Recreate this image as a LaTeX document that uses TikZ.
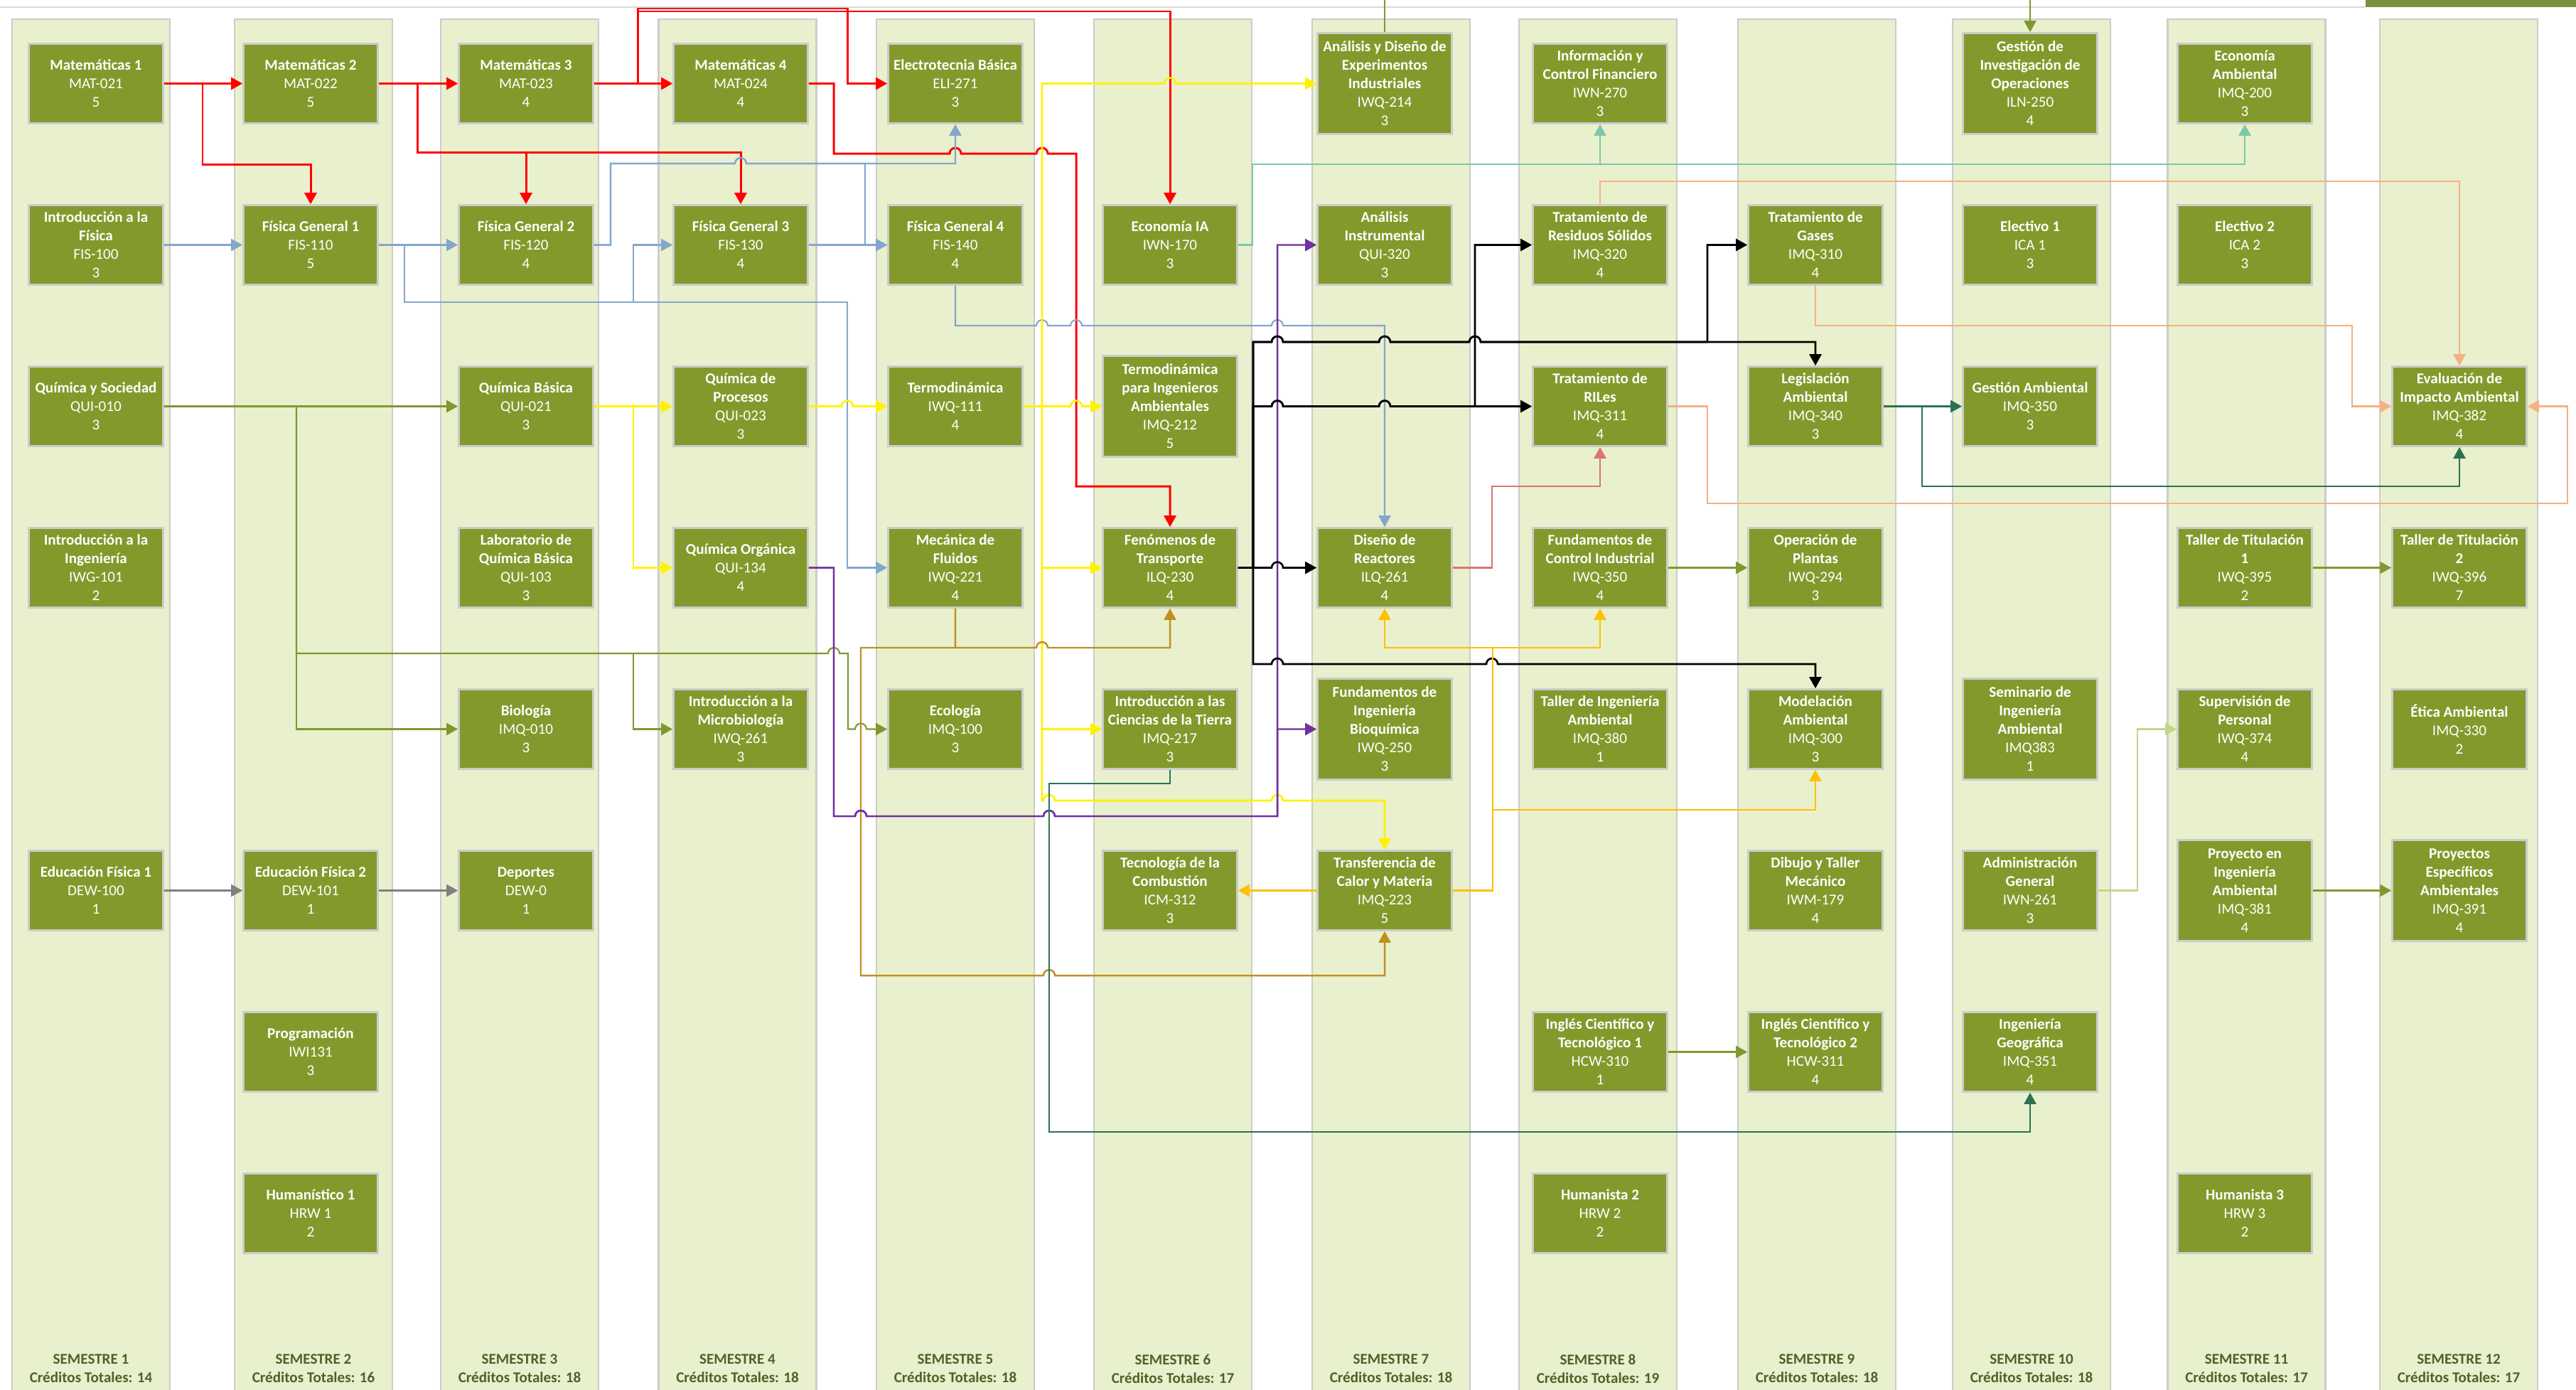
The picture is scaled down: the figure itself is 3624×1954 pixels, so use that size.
\documentclass[tikz,border=0pt]{standalone}
\usepackage{fontspec}
\setmainfont{Carlito}
\usepackage{tikz}
\usetikzlibrary{arrows.meta}
\usepackage{xcolor}
\definecolor{fondocarril}{RGB}{233,240,205}
\definecolor{fondoramo}{RGB}{132,153,43}
\definecolor{textosem}{RGB}{79,98,40}
\definecolor{barra}{RGB}{118,146,60}
\definecolor{lazul}{RGB}{132,166,206}
\definecolor{lolivo}{RGB}{128,152,48}
\definecolor{loro}{RGB}{191,144,32}
\definecolor{lmorado}{RGB}{112,48,160}
\definecolor{lsalmon}{RGB}{217,118,110}
\definecolor{lambar}{RGB}{255,192,0}
\definecolor{lnaranja}{RGB}{244,177,131}
\definecolor{lturquesa}{RGB}{122,201,170}
\definecolor{lverde}{RGB}{44,114,82}
\definecolor{lverdeclaro}{RGB}{196,215,135}
\newcommand{\salto}[2]{-- ({#1-8},#2) arc[start angle=180, end angle=0, radius=0.08cm]}

\begin{document}
\begin{tikzpicture}[x=0.01cm, y=-0.01cm]
            \tikzstyle{carril} = [rectangle, draw=black!20, line width=0.7pt, fill=fondocarril, minimum width=2.22cm, minimum height=19.33cm]
            \tikzstyle{ramo} = [rectangle, draw=black!20, line width=0.7pt, fill=fondoramo, text=white, minimum width=1.89cm, minimum height=1.12cm, inner sep=0pt, align=center, font=\fontsize{6}{7.4}\selectfont]
            \tikzstyle{alto} = [minimum height=1.42cm]
            \tikzstyle{semestre} = [align=center, text=textosem, font=\bfseries\fontsize{6}{7.4}\selectfont]
            \tikzstyle{req} = [-{Triangle[length=1.6mm, width=1.7mm]}, line width=0.6pt]
            \tikzstyle{rojo} = [req, draw=red, line width=0.85pt]
            \tikzstyle{azul} = [req, draw=lazul]
            \tikzstyle{olivo} = [req, draw=lolivo]
            \tikzstyle{gris} = [req, draw=black!50]
            \tikzstyle{amarillo} = [req, draw=yellow, line width=0.75pt]
            \tikzstyle{oro} = [req, draw=loro, line width=0.7pt]
            \tikzstyle{morado} = [req, draw=lmorado, line width=0.7pt]
            \tikzstyle{negro} = [req, draw=black, line width=0.75pt]
            \tikzstyle{salmon} = [req, draw=lsalmon, line width=0.7pt]
            \tikzstyle{ambar} = [req, draw=lambar, line width=0.75pt]
            \tikzstyle{naranja} = [req, draw=lnaranja, line width=0.7pt]
            \tikzstyle{turquesa} = [req, draw=lturquesa, line width=0.7pt]
            \tikzstyle{verde} = [req, draw=lverde, line width=0.7pt]
            \tikzstyle{verdeclaro} = [req, draw=lverdeclaro, line width=0.7pt]

            \useasboundingbox (0,0) rectangle (3624,1954);
            \draw[black!15, line width=0.8pt] (0,10) -- (3328,10);
            \fill[barra] (3328,0) rectangle (3624,10);

            \node[carril] (s1) at (128,994) {};
            \node[carril] (s2) at (441,994) {};
            \node[carril] (s3) at (731,994) {};
            \node[carril] (s4) at (1037.5,994) {};
            \node[carril] (s5) at (1344,994) {};
            \node[carril] (s6) at (1650,994) {};
            \node[carril] (s7) at (1957,994) {};
            \node[carril] (s8) at (2248,994) {};
            \node[carril] (s9) at (2556,994) {};
            \node[carril] (s10) at (2858,994) {};
            \node[carril] (s11) at (3160.5,994) {};
            \node[carril] (s12) at (3459,994) {};

            \node[semestre] (t1) at (128,1925) {SEMESTRE 1\\Créditos Totales: 14};
            \node[semestre] (t2) at (441,1925) {SEMESTRE 2\\Créditos Totales: 16};
            \node[semestre] (t3) at (731,1925) {SEMESTRE 3\\Créditos Totales: 18};
            \node[semestre] (t4) at (1037.5,1925) {SEMESTRE 4\\Créditos Totales: 18};
            \node[semestre] (t5) at (1344,1925) {SEMESTRE 5\\Créditos Totales: 18};
            \node[semestre] (t6) at (1650,1925) {SEMESTRE 6\\Créditos Totales: 17};
            \node[semestre] (t7) at (1957,1925) {SEMESTRE 7\\Créditos Totales: 18};
            \node[semestre] (t8) at (2248,1925) {SEMESTRE 8\\Créditos Totales: 19};
            \node[semestre] (t9) at (2556,1925) {SEMESTRE 9\\Créditos Totales: 18};
            \node[semestre] (t10) at (2858,1925) {SEMESTRE 10\\Créditos Totales: 18};
            \node[semestre] (t11) at (3160.5,1925) {SEMESTRE 11\\Créditos Totales: 17};
            \node[semestre] (t12) at (3459,1925) {SEMESTRE 12\\Créditos Totales: 17};

            \node[ramo] (mat1) at (135,117.5) {\textbf{Matemáticas 1}\\MAT-021\\5};
            \node[ramo] (ifis) at (135,344.5) {\textbf{Introducción a la}\\\textbf{Física}\\FIS-100\\3};
            \node[ramo] (quisoc) at (135,571.5) {\textbf{Química y Sociedad}\\QUI-010\\3};
            \node[ramo] (ing) at (135,798.5) {\textbf{Introducción a la}\\\textbf{Ingeniería}\\IWG-101\\2};
            \node[ramo] (edf1) at (135,1252.5) {\textbf{Educación Física 1}\\DEW-100\\1};

            \node[ramo] (mat2) at (437,117.5) {\textbf{Matemáticas 2}\\MAT-022\\5};
            \node[ramo] (fis1) at (437,344.5) {\textbf{Física General 1}\\FIS-110\\5};
            \node[ramo] (edf2) at (437,1252.5) {\textbf{Educación Física 2}\\DEW-101\\1};
            \node[ramo] (prog) at (437,1479.5) {\textbf{Programación}\\IWI131\\3};
            \node[ramo] (hum1) at (437,1706.5) {\textbf{Humanístico 1}\\HRW 1\\2};

            \node[ramo] (mat3) at (740,117.5) {\textbf{Matemáticas 3}\\MAT-023\\4};
            \node[ramo] (fis2) at (740,344.5) {\textbf{Física General 2}\\FIS-120\\4};
            \node[ramo] (quib) at (740,571.5) {\textbf{Química Básica}\\QUI-021\\3};
            \node[ramo] (labq) at (740,798.5) {\textbf{Laboratorio de}\\\textbf{Química Básica}\\QUI-103\\3};
            \node[ramo] (bio) at (740,1025.5) {\textbf{Biología}\\IMQ-010\\3};
            \node[ramo] (dep) at (740,1252.5) {\textbf{Deportes}\\DEW-0\\1};

            \node[ramo] (mat4) at (1042,117.5) {\textbf{Matemáticas 4}\\MAT-024\\4};
            \node[ramo] (fis3) at (1042,344.5) {\textbf{Física General 3}\\FIS-130\\4};
            \node[ramo] (quip) at (1042,571.5) {\textbf{Química de}\\\textbf{Procesos}\\QUI-023\\3};
            \node[ramo] (quio) at (1042,798.5) {\textbf{Química Orgánica}\\QUI-134\\4};
            \node[ramo] (micro) at (1042,1025.5) {\textbf{Introducción a la}\\\textbf{Microbiología}\\IWQ-261\\3};

            \node[ramo] (elec) at (1344,117.5) {\textbf{Electrotecnia Básica}\\ELI-271\\3};
            \node[ramo] (fis4) at (1344,344.5) {\textbf{Física General 4}\\FIS-140\\4};
            \node[ramo] (termo) at (1344,571.5) {\textbf{Termodinámica}\\IWQ-111\\4};
            \node[ramo] (mecf) at (1344,798.5) {\textbf{Mecánica de}\\\textbf{Fluidos}\\IWQ-221\\4};
            \node[ramo] (eco) at (1344,1025.5) {\textbf{Ecología}\\IMQ-100\\3};

            \node[ramo] (econ) at (1646,344.5) {\textbf{Economía IA}\\IWN-170\\3};
            \node[ramo, alto] (termia) at (1646,571.5) {\textbf{Termodinámica}\\\textbf{para Ingenieros}\\\textbf{Ambientales}\\IMQ-212\\5};
            \node[ramo] (fen) at (1646,798.5) {\textbf{Fenómenos de}\\\textbf{Transporte}\\ILQ-230\\4};
            \node[ramo] (tierra) at (1646,1025.5) {\textbf{Introducción a las}\\\textbf{Ciencias de la Tierra}\\IMQ-217\\3};
            \node[ramo] (comb) at (1646,1252.5) {\textbf{Tecnología de la}\\\textbf{Combustión}\\ICM-312\\3};

            \node[ramo, alto] (adex) at (1948,117.5) {\textbf{Análisis y Diseño de}\\\textbf{Experimentos}\\\textbf{Industriales}\\IWQ-214\\3};
            \node[ramo] (anins) at (1948,344.5) {\textbf{Análisis}\\\textbf{Instrumental}\\QUI-320\\3};
            \node[ramo] (dreac) at (1948,798.5) {\textbf{Diseño de}\\\textbf{Reactores}\\ILQ-261\\4};
            \node[ramo, alto] (bioq) at (1948,1025.5) {\textbf{Fundamentos de}\\\textbf{Ingeniería}\\\textbf{Bioquímica}\\IWQ-250\\3};
            \node[ramo] (tcm) at (1948,1252.5) {\textbf{Transferencia de}\\\textbf{Calor y Materia}\\IMQ-223\\5};

            \node[ramo] (infin) at (2251,117.5) {\textbf{Información y}\\\textbf{Control Financiero}\\IWN-270\\3};
            \node[ramo] (rsol) at (2251,344.5) {\textbf{Tratamiento de}\\\textbf{Residuos Sólidos}\\IMQ-320\\4};
            \node[ramo] (riles) at (2251,571.5) {\textbf{Tratamiento de}\\\textbf{RILes}\\IMQ-311\\4};
            \node[ramo] (fci) at (2251,798.5) {\textbf{Fundamentos de}\\\textbf{Control Industrial}\\IWQ-350\\4};
            \node[ramo] (tallia) at (2251,1025.5) {\textbf{Taller de Ingeniería}\\\textbf{Ambiental}\\IMQ-380\\1};
            \node[ramo] (ingl1) at (2251,1479.5) {\textbf{Inglés Científico y}\\\textbf{Tecnológico 1}\\HCW-310\\1};
            \node[ramo] (hum2) at (2251,1706.5) {\textbf{Humanista 2}\\HRW 2\\2};

            \node[ramo] (gases) at (2554,344.5) {\textbf{Tratamiento de}\\\textbf{Gases}\\IMQ-310\\4};
            \node[ramo] (legis) at (2554,571.5) {\textbf{Legislación}\\\textbf{Ambiental}\\IMQ-340\\3};
            \node[ramo] (oplan) at (2554,798.5) {\textbf{Operación de}\\\textbf{Plantas}\\IWQ-294\\3};
            \node[ramo] (model) at (2554,1025.5) {\textbf{Modelación}\\\textbf{Ambiental}\\IMQ-300\\3};
            \node[ramo] (dibujo) at (2554,1252.5) {\textbf{Dibujo y Taller}\\\textbf{Mecánico}\\IWM-179\\4};
            \node[ramo] (ingl2) at (2554,1479.5) {\textbf{Inglés Científico y}\\\textbf{Tecnológico 2}\\HCW-311\\4};

            \node[ramo, alto] (gio) at (2856,117.5) {\textbf{Gestión de}\\\textbf{Investigación de}\\\textbf{Operaciones}\\ILN-250\\4};
            \node[ramo] (elec1) at (2856,344.5) {\textbf{Electivo 1}\\ICA 1\\3};
            \node[ramo] (gamb) at (2856,571.5) {\textbf{Gestión Ambiental}\\IMQ-350\\3};
            \node[ramo, alto] (semi) at (2856,1025.5) {\textbf{Seminario de}\\\textbf{Ingeniería}\\\textbf{Ambiental}\\IMQ383\\1};
            \node[ramo] (adm) at (2856,1252.5) {\textbf{Administración}\\\textbf{General}\\IWN-261\\3};
            \node[ramo] (geo) at (2856,1479.5) {\textbf{Ingeniería}\\\textbf{Geográfica}\\IMQ-351\\4};

            \node[ramo] (ecamb) at (3158,117.5) {\textbf{Economía}\\\textbf{Ambiental}\\IMQ-200\\3};
            \node[ramo] (elec2) at (3158,344.5) {\textbf{Electivo 2}\\ICA 2\\3};
            \node[ramo] (tit1) at (3158,798.5) {\textbf{Taller de Titulación}\\\textbf{1}\\IWQ-395\\2};
            \node[ramo] (sup) at (3158,1025.5) {\textbf{Supervisión de}\\\textbf{Personal}\\IWQ-374\\4};
            \node[ramo, alto] (proy) at (3158,1252.5) {\textbf{Proyecto en}\\\textbf{Ingeniería}\\\textbf{Ambiental}\\IMQ-381\\4};
            \node[ramo] (hum3) at (3158,1706.5) {\textbf{Humanista 3}\\HRW 3\\2};

            \node[ramo] (eia) at (3460,571.5) {\textbf{Evaluación de}\\\textbf{Impacto Ambiental}\\IMQ-382\\4};
            \node[ramo] (tit2) at (3460,798.5) {\textbf{Taller de Titulación}\\\textbf{2}\\IWQ-396\\7};
            \node[ramo] (etica) at (3460,1025.5) {\textbf{Ética Ambiental}\\IMQ-330\\2};
            \node[ramo, alto] (proye) at (3460,1252.5) {\textbf{Proyectos}\\\textbf{Específicos}\\\textbf{Ambientales}\\IMQ-391\\4};

            \coordinate (arriba1) at (1948,0);
            \coordinate (arriba2) at (2856,0);

            \draw[rojo] (mat1) -- (mat2);
            \draw[rojo] (mat1.east) -| (285,231) -| (fis1.north);
            \draw[rojo] (mat2) -- (mat3);
            \draw[rojo] (mat2.east) -| (587,214) -| (fis2.north);
            \draw[rojo] (mat2.east) -| (587,214) -| (fis3.north);
            \draw[rojo] (mat3) -- (mat4);
            \draw[rojo] (mat3.east) -| (897,12) -| (1192,117.5) -- (elec.west);
            \draw[rojo] (mat3.east) -| (897,16) -| (econ.north);
            \draw[rojo] (mat4.east) -| (1173,216) \salto{1344}{216} \salto{1466}{216} -- (1514,216) |- (1646,684) -- (fen.north);

            \draw[azul] (ifis) -- (fis1);
            \draw[azul] (fis1) -- (fis2);
            \draw[azul] (fis1.east) -| (569,425) -| (891,344.5) -- (fis3.west);
            \draw[azul] (fis1.east) -| (569,425) -| (1192,798.5) -- (mecf.west);
            \draw[azul] (fis2.east) -| (859,230) \salto{1042}{230} -| (1217,344.5) -- (fis4.west);
            \draw[azul] (fis2.east) -| (859,230) \salto{1042}{230} -| (elec.south);
            \draw[azul] (fis3) -- (fis4);
            \draw[azul] (fis4.south) -- (1344,458) \salto{1466}{458} \salto{1514}{458} \salto{1797}{458} -| (dreac.north);

            \draw[olivo] (quisoc) -- (quib);
            \draw[olivo] (quisoc.east) -| (417,1025.5) -- (bio.west);
            \draw[olivo] (quisoc.east) -| (417,919) -| (891,1025.5) -- (micro.west);
            \draw[olivo] (quisoc.east) -| (417,919) \salto{1173}{919} -| (1193,1025.5) \salto{1211}{1025.5} -- (eco.west);
            \draw[olivo] (fci) -- (oplan);
            \draw[olivo] (ingl1) -- (ingl2);
            \draw[olivo] (tit1) -- (tit2);
            \draw[olivo] (proy) -- (proye);
            \draw[olivo, -] (arriba1) -- (adex.north);
            \draw[olivo] (arriba2) -- (gio.north);

            \draw[gris] (edf1) -- (edf2);
            \draw[gris] (edf2) -- (dep);

            \draw[amarillo] (quib) -- (quip);
            \draw[amarillo] (quib.east) -| (891,798.5) -- (quio.west);
            \draw[amarillo] (quip.east) \salto{1192}{571.5} -- (termo.west);
            \draw[amarillo] (termo.east) \salto{1514}{571.5} -- (termia.west);
            \draw[amarillo] (termo.east) -| (1466,117.5) \salto{1646}{117.5} -- (adex.west);
            \draw[amarillo] (termo.east) -| (1466,798.5) -- (fen.west);
            \draw[amarillo] (termo.east) -| (1466,1025.5) -- (tierra.west);
            \draw[amarillo] (termo.east) -| (1466,1126) \salto{1476}{1126} \salto{1797}{1126} -| (tcm.north);

            \draw[oro] (mecf.south) -- (1344,911) \salto{1466}{911} -| (fen.south);
            \draw[oro] (mecf.south) |- (1211,911) -- (1211,1372) \salto{1476}{1372} -| (tcm.south);

            \draw[morado] (quio.east) -| (1173,1148) \salto{1211}{1148} \salto{1476}{1148} -| (1797,344.5) -- (anins.west);
            \draw[morado] (quio.east) -| (1173,1148) \salto{1211}{1148} \salto{1476}{1148} -| (1797,1025.5) -- (bioq.west);

            \draw[negro] (fen.east) \salto{1797}{798.5} -- (dreac.west);
            \draw[negro] (fen.east) -| (1763,571.5) \salto{1797}{571.5} \salto{1948}{571.5} -| (2075,344.5) -- (rsol.west);
            \draw[negro] (fen.east) -| (1763,571.5) \salto{1797}{571.5} \salto{1948}{571.5} -- (riles.west);
            \draw[negro] (fen.east) -| (1763,481) \salto{1797}{481} \salto{1948}{481} \salto{2075}{481} -| (2402,344.5) -- (gases.west);
            \draw[negro] (fen.east) -| (1763,481) \salto{1797}{481} \salto{1948}{481} \salto{2075}{481} -| (legis.north);
            \draw[negro] (fen.east) -| (1763,934) \salto{1797}{934} \salto{2099}{934} -| (model.north);

            \draw[salmon] (dreac.east) -| (2099,684) -| (riles.south);

            \draw[ambar] (tcm) -- (comb);
            \draw[ambar] (tcm.east) -| (2100,911) -| (dreac.south);
            \draw[ambar] (tcm.east) -| (2100,911) -| (fci.south);
            \draw[ambar] (tcm.east) -| (2100,1139) -| (model.south);

            \draw[naranja] (rsol.north) |- (3460,255) -- (eia.north);
            \draw[naranja] (gases.south) |- (3309,458) |- (eia.west);
            \draw[naranja] (riles.east) -| (2402,708) -| (3612,571.5) -- (eia.east);

            \draw[turquesa] (econ.east) -| (1762,231) -| (infin.south);
            \draw[turquesa] (econ.east) -| (1762,231) -| (ecamb.south);

            \draw[verde] (legis) -- (gamb);
            \draw[verde] (legis.east) -| (2704,684) -| (eia.south);
            \draw[verde] (tierra.south) |- (1476,1102) |- (2856,1592) -- (geo.south);

            \draw[verdeclaro] (adm.east) -| (3007,1025.5) -- (sup.west);
\end{tikzpicture}
\end{document}
